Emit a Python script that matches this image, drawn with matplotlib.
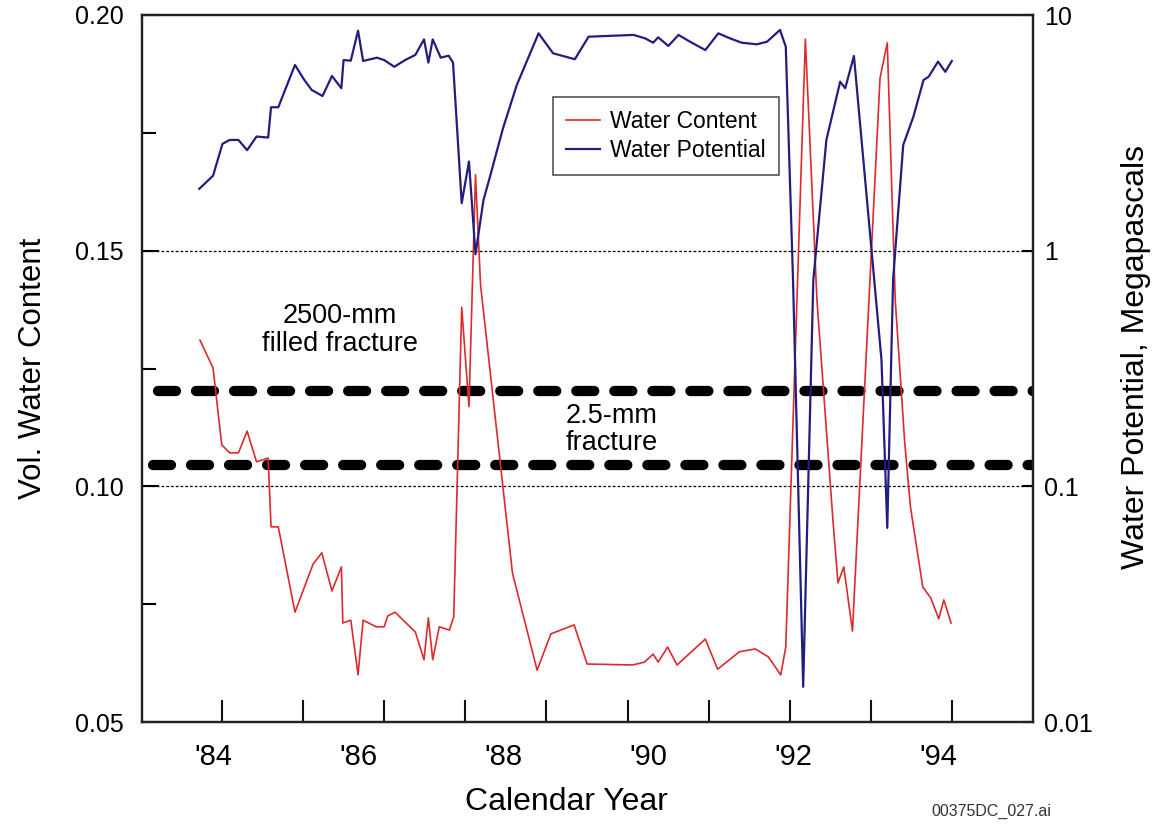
import matplotlib
matplotlib.use("Agg")
import matplotlib.pyplot as plt
import numpy as np

plt.rcParams['font.family'] = ['Liberation Sans', 'DejaVu Sans']

# volumetric water content (left axis)
wc_year = [1983.82, 1984.00, 1984.12, 1984.23, 1984.35, 1984.47, 1984.60, 1984.76,
           1984.80, 1984.90, 1985.13, 1985.38, 1985.50, 1985.64, 1985.77, 1985.79,
           1985.90, 1986.00, 1986.07, 1986.25, 1986.36, 1986.41, 1986.51, 1986.79,
           1986.91, 1986.97, 1987.03, 1987.12, 1987.26, 1987.32, 1987.43, 1987.53,
           1987.62, 1987.69, 1988.13, 1988.47, 1988.66, 1988.98, 1989.16, 1989.79,
           1989.95, 1990.07, 1990.14, 1990.27, 1990.40, 1990.79, 1990.96, 1991.26,
           1991.48, 1991.66, 1991.83, 1991.90, 1992.17, 1992.33, 1992.55, 1992.62,
           1992.70, 1992.82, 1993.20, 1993.30, 1993.41, 1993.54, 1993.62, 1993.79,
           1993.90, 1994.01, 1994.08, 1994.18]
wc_val = [0.1310, 0.1251, 0.1088, 0.1071, 0.1071, 0.1117, 0.1052, 0.1060,
          0.0914, 0.0914, 0.0733, 0.0835, 0.0859, 0.0778, 0.0829, 0.0710,
          0.0716, 0.0600, 0.0716, 0.0702, 0.0702, 0.0725, 0.0733, 0.0691,
          0.0632, 0.0721, 0.0632, 0.0702, 0.0695, 0.0723, 0.1380, 0.1169,
          0.1661, 0.1427, 0.0816, 0.0610, 0.0687, 0.0706, 0.0623, 0.0621,
          0.0627, 0.0644, 0.0627, 0.0659, 0.0621, 0.0676, 0.0612, 0.0649,
          0.0655, 0.0638, 0.0600, 0.0659, 0.1949, 0.1395, 0.0929, 0.0795,
          0.0829, 0.0693, 0.1866, 0.1941, 0.1395, 0.1094, 0.0956, 0.0786,
          0.0763, 0.0719, 0.0759, 0.0710]

# water potential, MPa (right axis, log)
wp_year = [1983.81, 1984.00, 1984.13, 1984.23, 1984.35, 1984.47, 1984.60, 1984.76,
           1984.80, 1984.90, 1985.13, 1985.25, 1985.36, 1985.51, 1985.64, 1985.77,
           1985.80, 1985.90, 1986.00, 1986.07, 1986.26, 1986.36, 1986.50, 1986.65,
           1986.79, 1986.91, 1986.97, 1987.03, 1987.14, 1987.25, 1987.31, 1987.43,
           1987.53, 1987.62, 1987.73, 1987.82, 1988.00, 1988.19, 1988.49, 1988.69,
           1988.99, 1989.18, 1989.80, 1989.96, 1990.07, 1990.14, 1990.28, 1990.42,
           1990.58, 1990.79, 1990.97, 1991.13, 1991.29, 1991.50, 1991.64, 1991.82,
           1991.90, 1992.00, 1992.14, 1992.28, 1992.46, 1992.65, 1992.72, 1992.84,
           1993.22, 1993.30, 1993.38, 1993.52, 1993.66, 1993.80, 1993.87, 1994.00,
           1994.10, 1994.19]
wp_val = [1.83, 2.08, 2.84, 2.95, 2.95, 2.67, 3.05, 3.02,
          4.06, 4.06, 6.14, 5.35, 4.81, 4.53, 5.51, 4.89,
          6.44, 6.40, 8.58, 6.38, 6.59, 6.44, 6.03, 6.44,
          6.77, 7.88, 6.28, 7.88, 6.59, 6.72, 6.28, 1.59,
          2.39, 0.965, 1.64, 2.06, 3.31, 5.05, 8.36, 6.88,
          6.49, 8.09, 8.23, 7.96, 7.63, 8.04, 7.39, 8.23,
          7.70, 7.10, 8.36, 7.96, 7.63, 7.51, 7.70, 8.64,
          7.34, 0.751, 0.0141, 0.751, 2.95, 5.21, 4.89, 6.70,
          0.344, 0.0666, 0.751, 2.81, 3.70, 5.30, 5.47, 6.34,
          5.74, 6.38]

year_labels = ["'84", "'86", "'88", "'90", "'92", "'94"]
year_label_pos = [1984, 1986, 1988, 1990, 1992, 1994]

fracture_2500mm = 0.1202
fracture_2_5mm = 0.1045

red = '#dc2a2e'
blue = '#231e7e'

fig = plt.figure(figsize=(11.57, 8.24), dpi=100)
ax = fig.add_axes([142/1157, 1 - 722/824, 891/1157, 707/824])
ax2 = ax.twinx()

x0, x1 = 1983.02, 1995.31
ax.set_xlim(x0, x1)
ax.set_ylim(0.05, 0.20)
ax2.set_yscale('log')
ax2.set_ylim(0.01, 10)

# thin dotted reference lines
for v in [0.10, 0.15, 0.05]:
    ax.axhline(v, color='black', lw=0.9, ls=(0, (2.2, 1.6)), zorder=1)

# thick dashed fracture lines
ax.hlines(fracture_2500mm, 1983.24, x1, color='black', lw=7.4,
          linestyles=(0, (1.75, 1.95)), capstyle='round', zorder=1.5)
ax.hlines(fracture_2_5mm, 1983.17, x1, color='black', lw=7.4,
          linestyles=(0, (1.75, 1.95)), capstyle='round', zorder=1.5)

l1, = ax.plot(wc_year, wc_val, color=red, lw=1.2, zorder=3, label='Water Content')
l2, = ax2.plot(wp_year, wp_val, color=blue, lw=1.6, zorder=3, label='Water Potential')

ax.text(1985.75, 0.1332, "2500-mm\nfilled fracture", ha='center', va='center',
        fontsize=19.5, linespacing=1.07, multialignment='center')
ax.text(1989.50, 0.1120, "2.5-mm\nfracture", ha='center', va='center',
        fontsize=19.5, linespacing=1.07, multialignment='center')

# x axis: labels and (offset) tick marks
ax.set_xticks(year_label_pos)
ax.set_xticklabels(year_labels, fontsize=21)
ax.tick_params(axis='x', which='major', length=0, pad=15)
ax.set_xticks(1984.124 + np.arange(10) * 1.1186, minor=True)
ax.tick_params(axis='x', which='minor', direction='in', length=16, width=1.5,
               color='#111')

ax.set_yticks([0.05, 0.10, 0.15, 0.20])
ax.set_yticklabels(['0.05', '0.10', '0.15', '0.20'], fontsize=18)
ax.set_yticks([0.075, 0.125, 0.175], minor=True)
ax.tick_params(axis='y', which='major', direction='in', length=12, width=1.5, pad=13.5)
ax.tick_params(axis='y', which='minor', direction='in', length=10, width=1.5)

ax2.set_yticks([0.01, 0.1, 1, 10])
ax2.set_yticklabels(['0.01', '0.1', '1', '10'], fontsize=18)
ax2.yaxis.set_minor_locator(matplotlib.ticker.NullLocator())
ax2.tick_params(axis='y', which='major', direction='in', length=8, width=1.5, pad=8)

for a in (ax, ax2):
    for s in a.spines.values():
        s.set_linewidth(1.6)
        s.set_color('#222')

ax.set_xlabel('Calendar Year', fontsize=23)
ax.xaxis.set_label_coords((566 - 142) / 891, -0.092)
ax.set_ylabel('Vol. Water Content', fontsize=22.5)
ax.yaxis.set_label_coords(-0.106, 0.5)
ax2.set_ylabel('Water Potential, Megapascals', fontsize=23)
ax2.yaxis.set_label_coords(1.099, 0.516)

leg = ax2.legend(handles=[l1, l2], loc='upper left',
                 bbox_to_anchor=(553/1157, 1 - 97/824), bbox_transform=fig.transFigure,
                 fontsize=16.5, handlelength=1.5, handletextpad=0.45,
                 borderpad=0.55, labelspacing=0.3, borderaxespad=0,
                 fancybox=False, framealpha=1)
leg.get_frame().set_edgecolor('#555')
leg.get_frame().set_linewidth(1.2)

fig.text(991/1157, 1 - 811/824, '00375DC_027.ai', ha='center', va='center',
         fontsize=11.5, color='#333')

fig.savefig('out.png', dpi=100)
